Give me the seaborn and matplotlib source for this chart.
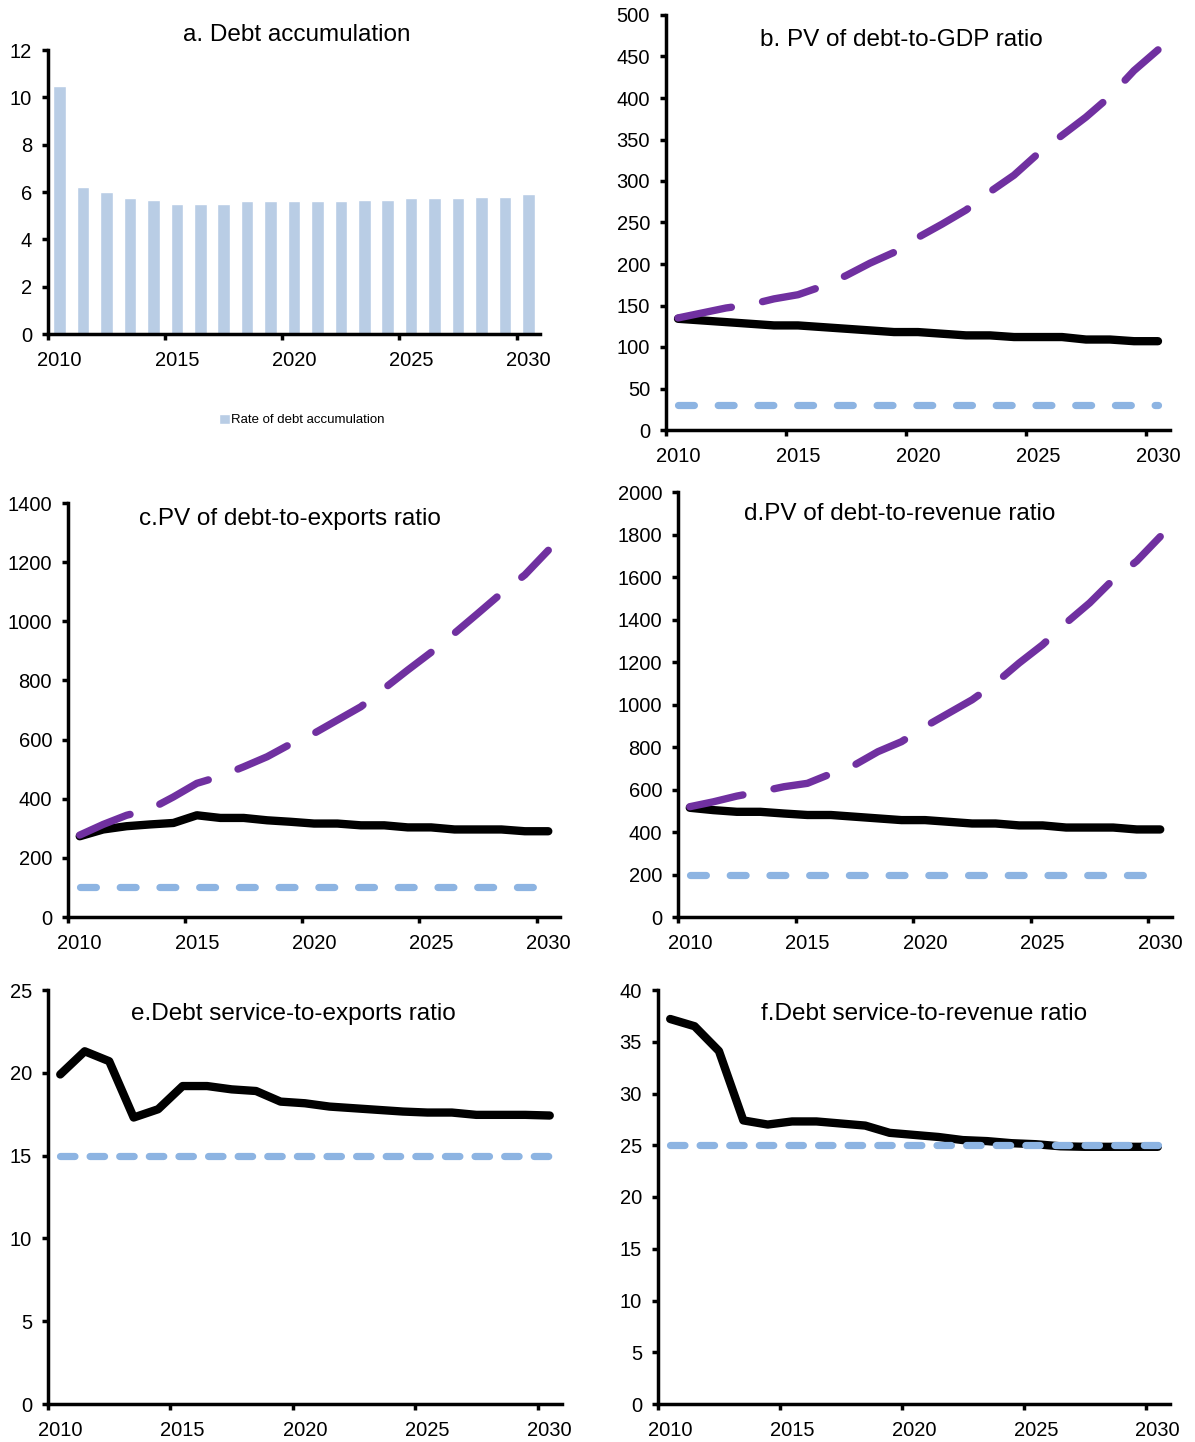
import numpy as np
import matplotlib.pyplot as plt
import seaborn as sns

sns.set_style('ticks')
plt.rcParams['font.family'] = ['Liberation Sans', 'DejaVu Sans']
plt.rcParams['text.color'] = 'black'
plt.rcParams['xtick.color'] = 'black'
plt.rcParams['ytick.color'] = 'black'
plt.rcParams['axes.labelcolor'] = 'black'

# ── Data ───────────────────────────────────────────────
years = list(range(2010, 2031))

# a. rate of debt accumulation
debt_accum = [10.5, 6.2, 6.0, 5.75, 5.65, 5.5, 5.5, 5.5, 5.6, 5.6, 5.6,
              5.6, 5.6, 5.65, 5.65, 5.75, 5.75, 5.75, 5.8, 5.8, 5.9]

# b. PV of debt-to-GDP
gdp_base = [134, 132, 130, 128, 126, 126, 124, 122, 120, 118, 118,
            116, 114, 114, 112, 112, 112, 109, 109, 107, 107]
gdp_shock = [135, 141, 147, 151, 158, 163, 173, 186, 201, 214, 232,
             248, 265, 287, 307, 333, 355, 377, 402, 433, 458]
gdp_thr = 30

# c. PV of debt-to-exports
exp_base = [273, 296, 307, 313, 318, 344, 335, 335, 327, 322, 316,
            316, 310, 310, 303, 303, 296, 296, 296, 290, 290]
exp_shock = [277, 313, 344, 364, 406, 452, 476, 508, 542, 585, 621,
             666, 711, 773, 835, 895, 960, 1027, 1095, 1157, 1240]
exp_thr = 100

# d. PV of debt-to-revenue
rev_base = [514, 503, 495, 495, 487, 480, 480, 472, 464, 456, 456,
            448, 440, 440, 431, 431, 421, 421, 421, 412, 412]
rev_shock = [519, 542, 569, 590, 613, 629, 674, 715, 778, 825, 896,
             959, 1022, 1101, 1195, 1281, 1384, 1478, 1588, 1675, 1790]
rev_thr = 200

# e. debt service-to-exports
dse_base = [19.9, 21.3, 20.7, 17.3, 17.8, 19.2, 19.2, 19.0, 18.9, 18.26, 18.16,
            17.96, 17.86, 17.76, 17.66, 17.6, 17.6, 17.46, 17.46, 17.46, 17.42]
dse_thr = 15

# f. debt service-to-revenue
dsr_base = [37.2, 36.5, 34.1, 27.4, 27.0, 27.3, 27.3, 27.1, 26.9, 26.2, 26.0,
            25.8, 25.5, 25.4, 25.2, 25.1, 24.9, 24.85, 24.85, 24.85, 24.85]
dsr_thr = 25

W, H = 1195, 1442
BLACK = 'black'
PURPLE = '#7030A0'
LBLUE = '#8DB4E2'
BARC = '#B9CDE5'

fig = plt.figure(figsize=(W / 100, H / 100), dpi=100)


def make_ax(left, right, top, bottom):
    return fig.add_axes([left / W, 1 - bottom / H, (right - left) / W, (bottom - top) / H])


def style_axis(ax, ymax, ystep):
    ax.set_xlim(2009.5, 2030.5)
    ax.set_ylim(0, ymax)
    ax.set_yticks(np.arange(0, ymax + ystep / 2, ystep))
    ax.set_xticks([2009.5, 2014.5, 2019.5, 2024.5, 2029.5])
    ax.set_xticklabels([])
    ax.set_xticks([2010, 2015, 2020, 2025, 2030], minor=True)
    ax.set_xticklabels(['2010', '2015', '2020', '2025', '2030'], minor=True)
    ax.tick_params(axis='both', which='major', length=4.5, width=2.5,
                   direction='out', labelsize=14.5, color='black')
    ax.tick_params(axis='y', pad=7)
    ax.tick_params(axis='x', which='minor', length=0, pad=12.5, labelsize=14.5)
    sns.despine(ax=ax)
    for s in ['left', 'bottom']:
        ax.spines[s].set_linewidth(2.5)
        ax.spines[s].set_color('black')
    ax.set_xlabel('')
    ax.set_ylabel('')


def title(text, x, y):
    fig.text(x / W, 1 - y / H, text, ha='center', va='center', fontsize=17.5)


def base_line(ax, vals):
    sns.lineplot(x=years, y=vals, ax=ax, color=BLACK, lw=6,
                 solid_capstyle='round')


def shock_line(ax, vals):
    sns.lineplot(x=years, y=vals, ax=ax, color=PURPLE, lw=5.3,
                 linestyle=(0, (7.4, 4.3)), dash_capstyle='round')


def thr_line(ax, val, dashes):
    sns.lineplot(x=years, y=[val] * len(years), ax=ax, color=LBLUE, lw=5.2,
                 linestyle=(0, dashes), dash_capstyle='round')


# ── a. Debt accumulation ───────────────────────────────
ax = make_ax(48, 540, 50, 334)
sns.barplot(x=years, y=debt_accum, native_scale=True, color=BARC,
            saturation=1, width=0.54, errorbar=None, ax=ax,
            label='Rate of debt accumulation')
style_axis(ax, 12, 2)
title('a. Debt accumulation', 297, 35)
ax.legend(loc='center', bbox_to_anchor=(302 / W, 1 - 420 / H),
          bbox_transform=fig.transFigure, frameon=False, fontsize=9.5,
          handlelength=0.8, handleheight=0.8, handletextpad=0.1)

# ── b. PV of debt-to-GDP ───────────────────────────────
ax = make_ax(666, 1170, 15, 430)
base_line(ax, gdp_base)
shock_line(ax, gdp_shock)
thr_line(ax, gdp_thr, (2.2, 3.3))
style_axis(ax, 500, 50)
title('b. PV of debt-to-GDP ratio', 901, 40)

# ── c. PV of debt-to-exports ───────────────────────────
ax = make_ax(68, 560, 503, 917)
base_line(ax, exp_base)
shock_line(ax, exp_shock)
thr_line(ax, exp_thr, (2.2, 3.3))
style_axis(ax, 1400, 200)
title('c.PV of debt-to-exports ratio', 290, 519)

# ── d. PV of debt-to-revenue ───────────────────────────
ax = make_ax(678, 1172, 492, 917)
base_line(ax, rev_base)
shock_line(ax, rev_shock)
thr_line(ax, rev_thr, (2.2, 3.3))
style_axis(ax, 2000, 200)
title('d.PV of debt-to-revenue ratio', 900, 514)

# ── e. Debt service-to-exports ─────────────────────────
ax = make_ax(48, 562, 990, 1404)
base_line(ax, dse_base)
thr_line(ax, dse_thr, (2.0, 2.1))
style_axis(ax, 25, 5)
title('e.Debt service-to-exports ratio', 293, 1014)

# ── f. Debt service-to-revenue ─────────────────────────
ax = make_ax(658, 1170, 990, 1404)
base_line(ax, dsr_base)
thr_line(ax, dsr_thr, (2.0, 2.1))
style_axis(ax, 40, 5)
title('f.Debt service-to-revenue ratio', 924, 1014)

fig.savefig('out.png', dpi=100)
